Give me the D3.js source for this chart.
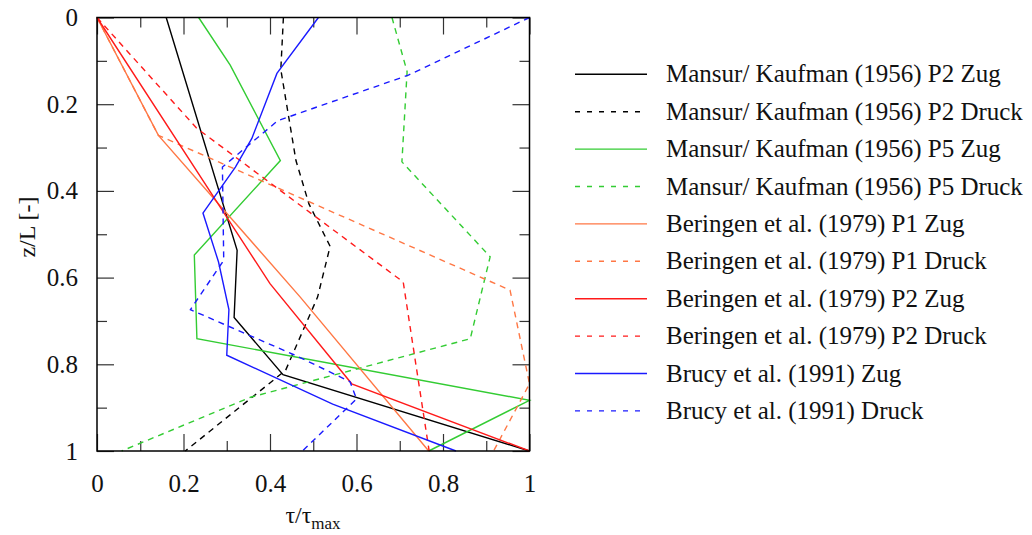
<!doctype html>
<html>
<meta content="text/html;charset=utf-8" http-equiv="Content-Type">
<head>
    <title>Schubspannungsverteilung</title>
    <script src="https://d3js.org/d3.v7.min.js" charset="utf-8"></script>
    <style>
        body { margin: 0; background: #fff; }
    </style>
</head>
<body>
<div id="chartArea"></div>
<script>
    // [tau/tau_max, z/L] pairs
    var mansurP2Zug   = [[0.16, 0], [0.324, 0.537], [0.317, 0.692], [0.43, 0.824], [1, 1]];
    var mansurP2Druck = [[0.431, 0], [0.425, 0.12], [0.46, 0.33], [0.49, 0.43], [0.539, 0.528], [0.51, 0.645], [0.436, 0.814], [0.204, 1]];
    var mansurP5Zug   = [[0.235, 0], [0.308, 0.11], [0.424, 0.33], [0.225, 0.548], [0.231, 0.741], [1, 0.883], [0.767, 1]];
    var mansurP5Druck = [[0.682, 0], [0.717, 0.125], [0.705, 0.333], [0.909, 0.552], [0.863, 0.741], [0.355, 0.876], [0.057, 1]];
    var beringenP1Zug   = [[0, 0], [0.142, 0.272], [0.47, 0.645], [0.767, 1]];
    var beringenP1Druck = [[0, 0], [0.142, 0.272], [0.955, 0.629], [1, 0.845], [0.917, 1]];
    var beringenP2Zug   = [[0, 0], [0.40, 0.614], [0.589, 0.845], [1, 1]];
    var beringenP2Druck = [[0, 0], [0.23, 0.255], [0.708, 0.61], [0.768, 1]];
    var brucyZug   = [[0.512, 0], [0.416, 0.129], [0.358, 0.279], [0.32, 0.345], [0.245, 0.451], [0.281, 0.564], [0.305, 0.674], [0.3, 0.779], [0.545, 0.892], [0.83, 1]];
    var brucyDruck = [[1, 0], [0.72, 0.133], [0.418, 0.238], [0.29, 0.345], [0.293, 0.56], [0.216, 0.674], [0.46, 0.78], [0.585, 0.84], [0.6, 0.88], [0.475, 1]];

    var seriesNames = ["Mansur/ Kaufman (1956) P2 Zug", "Mansur/ Kaufman (1956) P2 Druck",
        "Mansur/ Kaufman (1956) P5 Zug", "Mansur/ Kaufman (1956) P5 Druck",
        "Beringen et al. (1979) P1 Zug", "Beringen et al. (1979) P1 Druck",
        "Beringen et al. (1979) P2 Zug", "Beringen et al. (1979) P2 Druck",
        "Brucy et al. (1991) Zug", "Brucy et al. (1991) Druck"];
    var seriesData = [mansurP2Zug, mansurP2Druck, mansurP5Zug, mansurP5Druck,
        beringenP1Zug, beringenP1Druck, beringenP2Zug, beringenP2Druck, brucyZug, brucyDruck];

    var majorTicks = [0, 0.2, 0.4, 0.6, 0.8, 1];
    var minorTicks = [0.1, 0.3, 0.5, 0.7, 0.9];
    var tickLabels = ["0", "0.2", "0.4", "0.6", "0.8", "1"];

    var colors = ["#000000", "#000000", "#33cc33", "#33cc33", "#ff7744", "#ff7744", "#ff1a1a", "#ff1a1a", "#1a1aff", "#1a1aff"];

    var FONT = "'Liberation Serif', 'Times New Roman', Times, serif";

    var svg = d3.select("#chartArea").append("svg").attr("width", 1032).attr("height", 535);

    var x = d3.scaleLinear().domain([0, 1]).range([97, 529.5]);
    var y = d3.scaleLinear().domain([0, 1]).range([17.5, 451]);

    function label(d) { return tickLabels[majorTicks.indexOf(d)]; }

    // major + minor ticks on all four sides, pointing inwards
    function addAxis(axisFn, transform, values, size, withLabels, pad) {
        var a = axisFn.tickValues(values).tickSizeInner(-size).tickSizeOuter(0).tickPadding(pad || 0)
            .tickFormat(withLabels ? label : "");
        var g = svg.append("g").attr("transform", transform).call(a);
        g.attr("font-family", null).attr("font-size", null);
        g.select(".domain").remove();
        g.selectAll(".tick line").attr("stroke", "#333").attr("stroke-width", 1.2);
        g.selectAll("text").style("font-family", FONT).style("font-size", "25px").attr("fill", "#111");
        return g;
    }
    addAxis(d3.axisBottom(x), "translate(0,451)", majorTicks, 17, true, 23);
    addAxis(d3.axisBottom(x), "translate(0,451)", minorTicks, 10, false);
    addAxis(d3.axisTop(x), "translate(0,17.5)", majorTicks, 17, false);
    addAxis(d3.axisTop(x), "translate(0,17.5)", minorTicks, 10, false);
    addAxis(d3.axisLeft(y), "translate(97,0)", majorTicks, 17, true, 19);
    addAxis(d3.axisLeft(y), "translate(97,0)", minorTicks, 10, false);
    addAxis(d3.axisRight(y), "translate(529.5,0)", majorTicks, 17, false);
    addAxis(d3.axisRight(y), "translate(529.5,0)", minorTicks, 10, false);

    var line = d3.line().x(function (d) { return x(d[0]); }).y(function (d) { return y(d[1]); });

    seriesData.forEach(function (data, i) {
        svg.append("path")
            .attr("d", line(data))
            .attr("fill", "none")
            .attr("stroke", colors[i])
            .attr("stroke-width", 1.4)
            .attr("stroke-dasharray", i % 2 === 1 ? "6,5" : null);
    });

    svg.append("rect")
        .attr("x", x(0)).attr("y", y(0))
        .attr("width", x(1) - x(0)).attr("height", y(1) - y(0))
        .attr("fill", "none").attr("stroke", "#000").attr("stroke-width", 1.5);

    // axis titles
    var xt = svg.append("text").attr("x", 313).attr("y", 523)
        .attr("text-anchor", "middle")
        .style("font-family", FONT).style("font-size", "24px").attr("fill", "#111");
    xt.append("tspan").text("\u03c4/\u03c4");
    xt.append("tspan").attr("dy", 6).style("font-size", "17px").text("max");

    svg.append("text")
        .attr("transform", "translate(35,227) rotate(-90)")
        .attr("text-anchor", "middle")
        .style("font-family", FONT).style("font-size", "24px").attr("fill", "#111")
        .text("z/L [-]");

    // legend
    var legend = svg.append("g");
    seriesNames.forEach(function (name, i) {
        var ly = 74.3 + i * 37.4;
        legend.append("line")
            .attr("x1", 575).attr("x2", 647).attr("y1", ly).attr("y2", ly)
            .attr("stroke", colors[i]).attr("stroke-width", 1.4)
            .attr("stroke-dasharray", i % 2 === 1 ? "5,7" : null);
        legend.append("text").attr("x", 666).attr("y", ly + 8)
            .style("font-family", FONT).style("font-size", "25px").attr("fill", "#111")
            .text(name);
    });
</script>
</body>
</html>
